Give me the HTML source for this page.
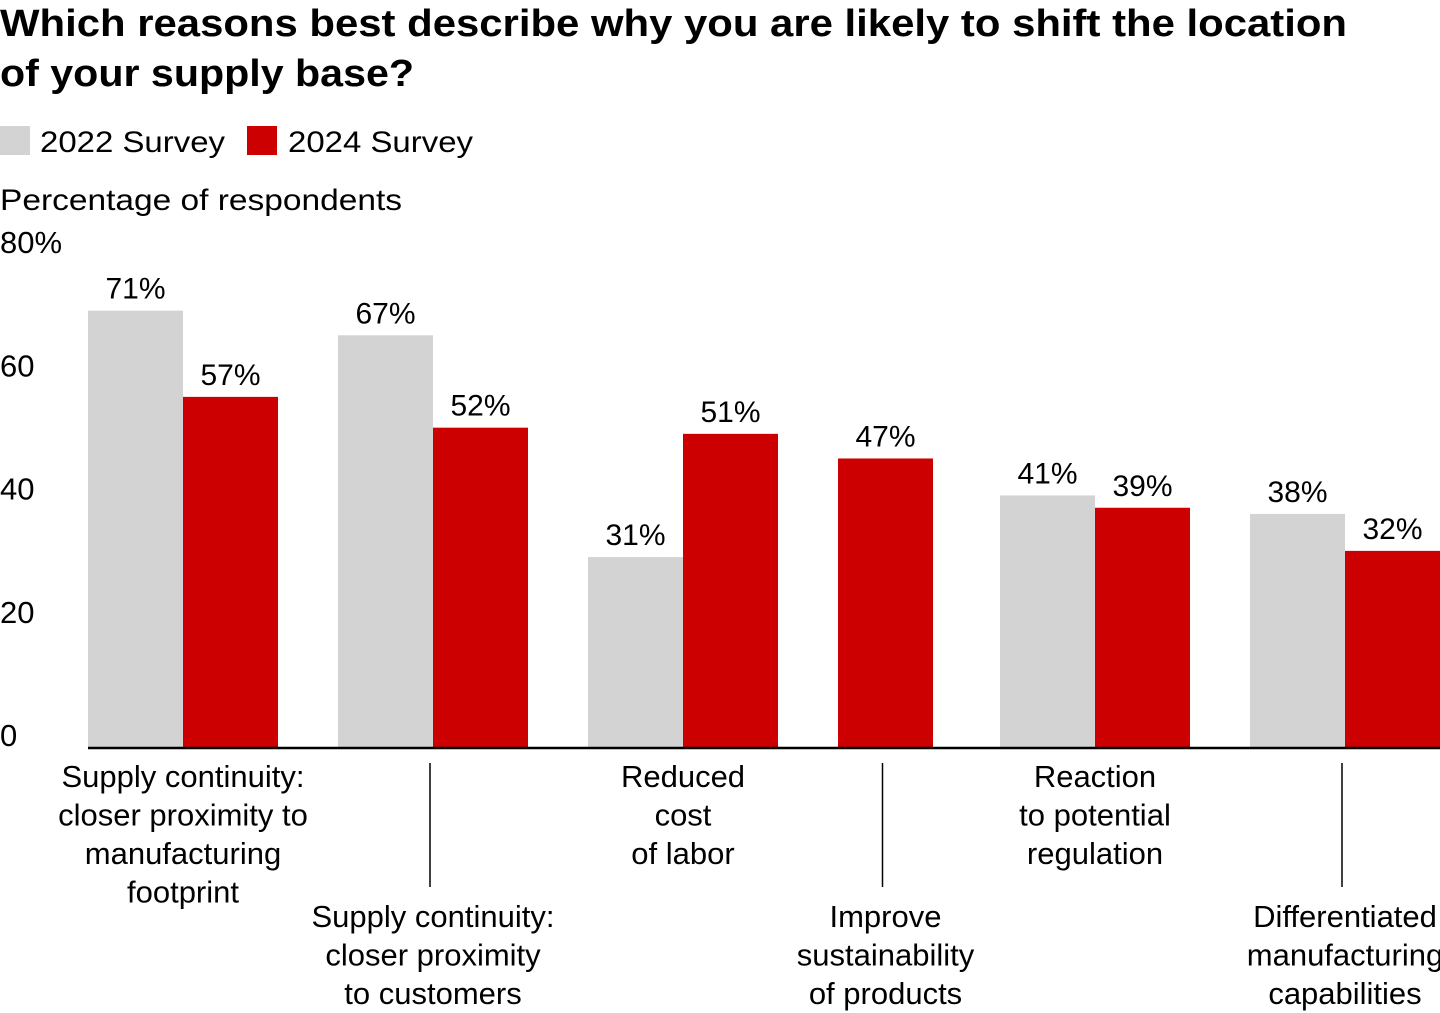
<!DOCTYPE html>
<html><head><meta charset="utf-8">
<style>
body{margin:0;width:1440px;height:1013px;background:#fff;overflow:hidden;font-family:"Liberation Sans",sans-serif;color:#000}
svg{position:absolute;left:0;top:0}
</style></head>
<body>
<svg width="1440" height="1013" id="chart">
<text x="0" y="36" font-size="38" font-weight="bold" textLength="1347" lengthAdjust="spacingAndGlyphs">Which reasons best describe why you are likely to shift the location</text>
<text x="0" y="86" font-size="38" font-weight="bold" textLength="414" lengthAdjust="spacingAndGlyphs">of your supply base?</text>
<rect x="0" y="126" width="30" height="29" fill="#d3d3d3"/>
<text x="40" y="152" font-size="30" textLength="185" lengthAdjust="spacingAndGlyphs">2022 Survey</text>
<rect x="247" y="126" width="30" height="29" fill="#cc0000"/>
<text x="288" y="152" font-size="30" textLength="185" lengthAdjust="spacingAndGlyphs">2024 Survey</text>
<text x="0" y="210" font-size="30" textLength="402" lengthAdjust="spacingAndGlyphs">Percentage of respondents</text>
<g id="ticks"></g><g id="bars"></g><g id="labels"></g>
</svg>
<script>
const categories=[
["Supply continuity:","closer proximity to","manufacturing","footprint"],
["Supply continuity:","closer proximity","to customers"],
["Reduced","cost","of labor"],
["Improve","sustainability","of products"],
["Reaction","to potential","regulation"],
["Differentiated","manufacturing","capabilities"]];
const values2022=[71,67,31,null,41,38];
const values2024=[57,52,51,47,39,32];
const tickValues=[0,20,40,60,80];
const tickLabels=["0","20","40","60","80%"];
const labelLow=[false,true,false,true,false,true];

const NS="http://www.w3.org/2000/svg";
const svg=document.getElementById('chart');
const base=748,scale=6.16,bw=95,gap=60,x0=88;
function y(v){return base-v*scale;}
function mk(tag,attrs,parent,txt){const e=document.createElementNS(NS,tag);for(const k in attrs)e.setAttribute(k,attrs[k]);if(txt!=null)e.textContent=txt;parent.appendChild(e);return e;}
const tg=document.getElementById('ticks'),bg=document.getElementById('bars'),lg=document.getElementById('labels');
tickValues.forEach((t,i)=>{
 const el=mk('text',{x:0,y:y(t)-2,'font-size':31},tg,tickLabels[i]);
 
 
});
let x=x0;const centers=[];
categories.forEach((c,i)=>{
 const start=x;
 let missing=false;
 [[values2022[i],'#d3d3d3','2022'],[values2024[i],'#cc0000','2024']].forEach(([v,col,s])=>{
  if(v==null){missing=true;return;}
  const r=mk('rect',{x:x,y:y(v),width:bw,height:v*scale,fill:col},bg);
  
  
  const t=mk('text',{x:x+bw/2,y:y(v)-12,'font-size':30,'text-anchor':'middle'},lg,v+'%');
  
  
  x+=bw;
 });
 centers.push((start+x)/2);
 x+=gap+(missing?7:0);
});
const ax=mk('line',{x1:x0,x2:1440,y1:base,y2:base,stroke:'#000','stroke-width':2.5},svg);


categories.forEach((c,i)=>{
 const top=labelLow[i]?927:787;
 c.forEach((ln,j)=>{
  const t=mk('text',{x:centers[i],y:top+j*38.5,'font-size':31,'text-anchor':'middle'},lg,ln);
  
  
 });
 if(labelLow[i]){
  const l=mk('line',{x1:centers[i]-3,x2:centers[i]-3,y1:763,y2:887,stroke:'#000','stroke-width':1.5},svg);
  
  
 }
});
</script>
</body></html>
